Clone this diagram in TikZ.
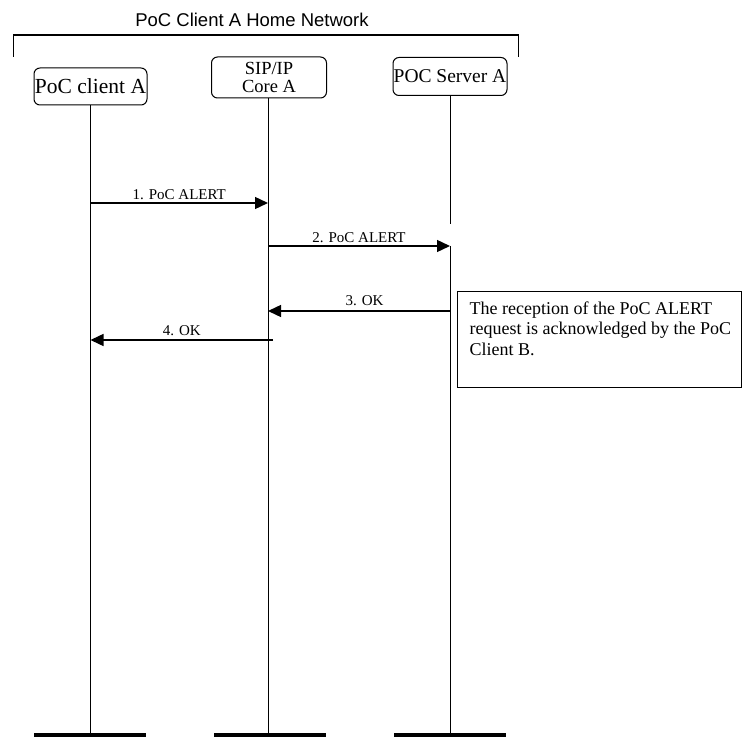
\documentclass[tikz,border=0pt]{standalone}
\usepackage{fontspec}
\setmainfont{Liberation Serif}
\newfontfamily\arialf{Liberation Sans}
\usetikzlibrary{arrows.meta}
\begin{document}
\begin{tikzpicture}[x=1pt,y=1pt,
  entity/.style={draw, line width=1pt, rounded corners=6pt, inner sep=0pt, align=center},
  lifeline/.style={line width=1pt},
  bar/.style={fill=black, draw=none, minimum width=112pt, minimum height=4.5pt, inner sep=0pt},
  msg/.style={line width=1.4pt, -{Triangle[length=13pt,width=12pt]}},
  msglabel/.style={font=\fontsize{15}{17}\selectfont, inner sep=0pt, anchor=south},
  notebox/.style={draw, line width=1pt, inner sep=0pt},
  bracket/.style={line width=1.3pt}
]
\useasboundingbox (0,0) rectangle (753,-738);

% title and bracket
\node[font=\arialf\fontsize{18.5}{21}\selectfont] (title) at (252,-20) {PoC Client A Home Network};
\coordinate (bl) at (13.5,-57);
\coordinate (br) at (518.5,-57);
\draw[bracket] (bl) -- (13.5,-35) -- (518.5,-35) -- (br);

% entities
\node[entity, minimum width=113pt, minimum height=37pt, font=\fontsize{21.5}{23}\selectfont] (A) at (90.5,-86.5) {PoC client A};
\node[entity, minimum width=115pt, minimum height=41pt, font=\fontsize{18.5}{17.6}\selectfont] (S) at (269,-77.5) {SIP/IP\\Core A};
\node[entity, minimum width=114pt, minimum height=38pt, font=\fontsize{19.5}{21}\selectfont] (P) at (450,-76.5) {POC Server A};

% bars
\node[bar] (bA) at (90,-735) {};
\node[bar] (bS) at (270,-735) {};
\node[bar] (bP) at (450,-735) {};

% lifelines
\draw[lifeline] (A.south) -- (A.south |- bA.north);
\draw[lifeline] (268,-98) coordinate (sTop) -- (sTop |- bS.north);
\coordinate (pGap1) at (450,-224);
\coordinate (pGap2) at (450,-246);
\draw[lifeline] (P.south) -- (pGap1);
\draw[lifeline] (pGap2) -- (pGap2 |- bP.north);

% messages
\coordinate (m1s) at (90.5,-203);
\coordinate (m1e) at (268,-203);
\draw[msg] (m1s) -- node[msglabel, above=3pt] (l1) {1. PoC ALERT} (m1e);

\coordinate (m2s) at (268,-246);
\coordinate (m2e) at (450,-246);
\draw[msg] (m2s) -- node[msglabel, above=3pt] (l2) {2. PoC ALERT} (m2e);

\coordinate (m3s) at (450,-311);
\coordinate (m3e) at (268,-311);
\draw[msg] (m3s) -- node[msglabel, above=5pt, pos=0.47] (l3) {3. OK} (m3e);

\coordinate (m4s) at (273,-340);
\coordinate (m4e) at (90.5,-340);
\draw[msg] (m4s) -- node[msglabel, above=4pt, pos=0.5] (l4) {4. OK} (m4e);

% note
\node[notebox, minimum width=284pt, minimum height=95pt] (note) at (599,-339.5) {};
\node[anchor=north west, align=left, inner sep=0pt, font=\fontsize{18}{20.5}\selectfont] (notetext) at ([shift={(13,-10)}]note.north west) {The reception of the PoC ALERT\\request is acknowledged by the PoC\\Client B.};
\end{tikzpicture}
\end{document}
